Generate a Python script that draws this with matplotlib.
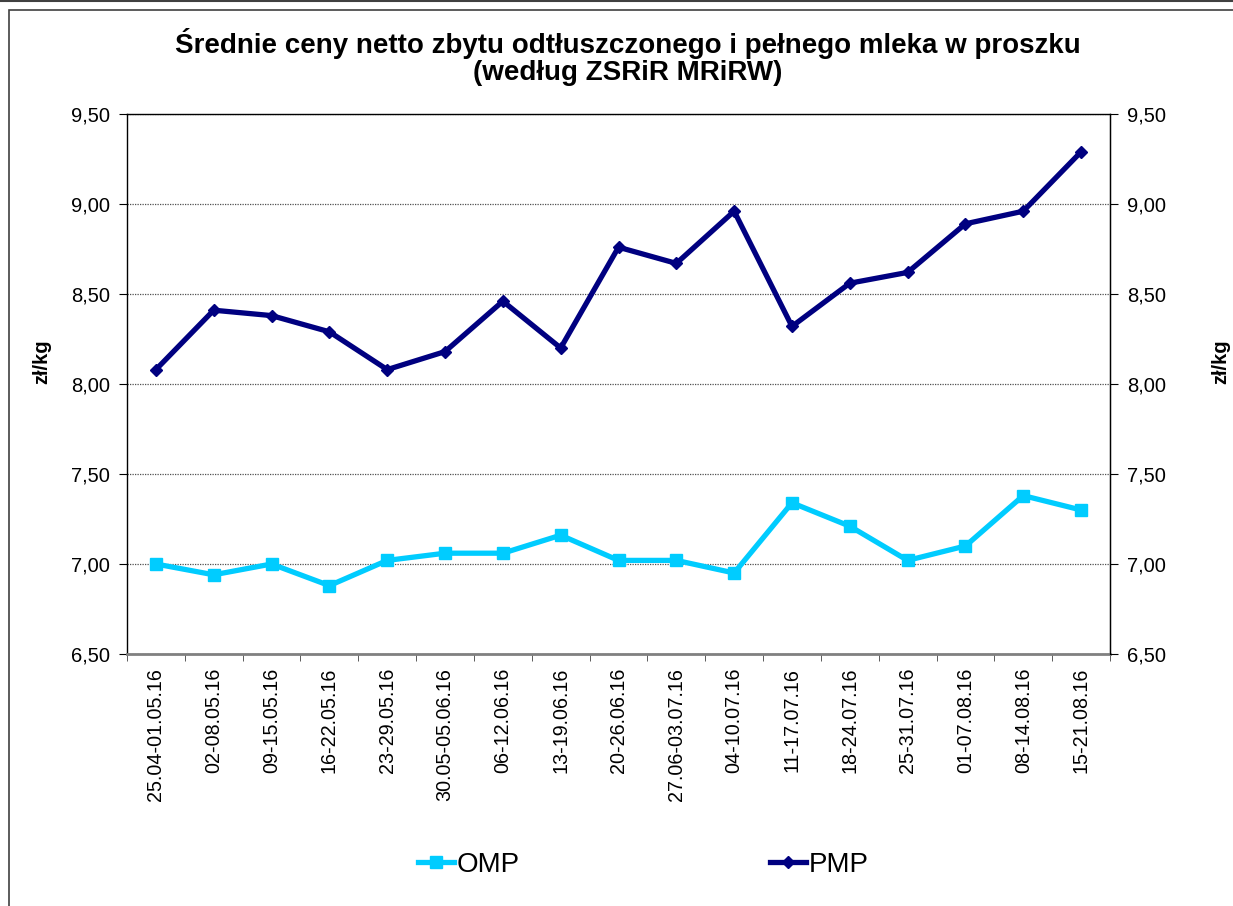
import matplotlib
matplotlib.use("Agg")
import matplotlib.pyplot as plt
from matplotlib.ticker import FuncFormatter, FixedLocator
from matplotlib.patches import Rectangle
from matplotlib.lines import Line2D

plt.rcParams['font.family'] = ['Liberation Sans', 'DejaVu Sans']

categories = ["25.04-01.05.16", "02-08.05.16", "09-15.05.16", "16-22.05.16",
              "23-29.05.16", "30.05-05.06.16", "06-12.06.16", "13-19.06.16",
              "20-26.06.16", "27.06-03.07.16", "04-10.07.16", "11-17.07.16",
              "18-24.07.16", "25-31.07.16", "01-07.08.16", "08-14.08.16",
              "15-21.08.16"]
omp = [7.00, 6.94, 7.00, 6.88, 7.02, 7.06, 7.06, 7.16, 7.02, 7.02,
       6.95, 7.34, 7.21, 7.02, 7.10, 7.38, 7.30]
pmp = [8.08, 8.41, 8.38, 8.29, 8.08, 8.18, 8.46, 8.20, 8.76, 8.67,
       8.96, 8.32, 8.56, 8.62, 8.89, 8.96, 9.29]
yticks = [6.5, 7.0, 7.5, 8.0, 8.5, 9.0, 9.5]
title_line1 = "Średnie ceny netto zbytu odtłuszczonego i pełnego mleka w proszku"
title_line2 = "(według ZSRiR MRiRW)"
ylabel = "zł/kg"

W, H = 1233, 906
fig = plt.figure(figsize=(W / 100, H / 100), dpi=100)
fig.patch.set_facecolor('white')

# outer frame
fig.add_artist(Rectangle((9 / W, -0.01), 1.1, (H - 10) / H + 0.01, transform=fig.transFigure,
                         fill=False, edgecolor='#404040', linewidth=1.2))
fig.add_artist(Line2D([0, 1], [1 - 1 / H, 1 - 1 / H], transform=fig.transFigure,
                      color='#404040', linewidth=1.5))

ax = fig.add_axes([127 / W, 1 - 654 / H, (1110 - 127) / W, (654 - 114) / H])
x = list(range(len(categories)))
ax.plot(x, omp, color='#00CCFF', linewidth=3.8, marker='s', markersize=8,
        label='OMP', zorder=3)
ax.plot(x, pmp, color='#000080', linewidth=3.8, marker='D', markersize=6,
        label='PMP', zorder=3)

ax.set_xlim(-0.5, len(categories) - 0.5)
ax.set_ylim(6.5, 9.5)
fmt = FuncFormatter(lambda v, p: f"{v:.2f}".replace('.', ','))
ax.yaxis.set_major_locator(FixedLocator(yticks))
ax.yaxis.set_major_formatter(fmt)
ax.grid(axis='y', color='#505050', linestyle=(0, (1, 1)), linewidth=0.9)
ax.set_axisbelow(True)

ax.set_xticks(x)
ax.set_xticklabels(categories, rotation=90, fontsize=14.2)
ax.set_xticks([i - 0.5 for i in range(len(categories) + 1)], minor=True)
ax.tick_params(axis='x', which='major', length=0, pad=10)
ax.tick_params(axis='x', which='minor', length=5, direction='out', color='#404040')
ax.tick_params(axis='y', labelsize=14.5, length=6, direction='out', pad=6)

for s in ['top', 'left', 'right']:
    ax.spines[s].set_color('black')
    ax.spines[s].set_linewidth(1.0)
ax.spines['bottom'].set_color('#808080')
ax.spines['bottom'].set_linewidth(2.0)

ax2 = ax.twinx()
ax2.set_ylim(6.5, 9.5)
ax2.yaxis.set_major_locator(FixedLocator(yticks))
ax2.yaxis.set_major_formatter(fmt)
ax2.tick_params(axis='y', labelsize=14.5, length=6, direction='out', pad=6)
for s in ax2.spines.values():
    s.set_visible(False)
ax2.spines['right'].set_visible(True)
ax2.spines['right'].set_color('black')

fig.text(42 / W, 1 - 362 / H, ylabel, rotation=90, fontsize=14.5, fontweight='bold',
         ha='center', va='center')
fig.text(1221 / W, 1 - 362 / H, ylabel, rotation=90, fontsize=14.5, fontweight='bold',
         ha='center', va='center')

fig.text(628 / W, 1 - 53 / H, title_line1, fontsize=20, fontweight='bold',
         ha='center', va='baseline')
fig.text(628 / W, 1 - 80.5 / H, title_line2, fontsize=20, fontweight='bold',
         ha='center', va='baseline')

h, l = ax.get_legend_handles_labels()
fig.legend(h, l, loc='center', bbox_to_anchor=(643 / W, 1 - 865 / H), ncol=2,
           frameon=False, fontsize=20, handlelength=1.3, handletextpad=0.1,
           columnspacing=9.0)

fig.savefig('out.png', dpi=100)
